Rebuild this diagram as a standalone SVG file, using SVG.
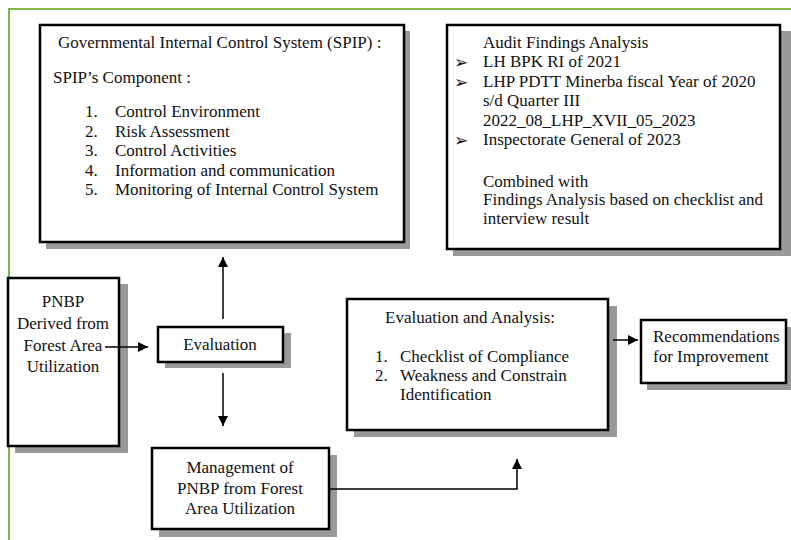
<svg xmlns="http://www.w3.org/2000/svg" width="791" height="540" viewBox="0 0 791 540">
<defs>
<style>
.frame{fill:none;stroke:#7cb84e;stroke-width:2}
.box{fill:#fff;stroke:#000;stroke-width:2.5}
.sh{fill:#999}
.t{font-family:"Liberation Serif","Times New Roman",serif;font-size:17px;fill:#111}
.c{text-anchor:middle}
.b{font-family:"DejaVu Sans",sans-serif;font-size:17px;fill:#111}
.ln{fill:none;stroke:#000;stroke-width:1.5}
</style>
<marker id="ah" viewBox="0 0 10 10" refX="10" refY="5" markerWidth="10" markerHeight="10" markerUnits="userSpaceOnUse" orient="auto">
<path d="M0,0 L10,5 L0,10 z" fill="#000"/>
</marker>
</defs>
<rect width="791" height="540" fill="#fff"/>
<path class="frame" d="M9,540 V9 H791"/>

<g id="spip">
<rect class="sh" x="46" y="31" width="364" height="218"/>
<rect class="box" x="40" y="25" width="364" height="217"/>
<text class="t" x="58" y="48">Governmental Internal Control System (SPIP) :</text>
<text class="t" x="53" y="83">SPIP’s Component :</text>
<text class="t" x="85" y="117">1.</text><text class="t" x="115" y="117">Control Environment</text>
<text class="t" x="85" y="137">2.</text><text class="t" x="115" y="137">Risk Assessment</text>
<text class="t" x="85" y="156">3.</text><text class="t" x="115" y="156">Control Activities</text>
<text class="t" x="85" y="176">4.</text><text class="t" x="115" y="176">Information and communication</text>
<text class="t" x="85" y="195">5.</text><text class="t" x="115" y="195">Monitoring of Internal Control System</text>
</g>

<g id="audit">
<rect class="sh" x="453" y="31" width="338" height="225"/>
<rect class="box" x="447" y="25" width="333" height="224"/>
<text class="t" x="483" y="48">Audit Findings Analysis</text>
<text class="b" x="454" y="68">➢</text><text class="t" x="483" y="67">LH BPK RI of 2021</text>
<text class="b" x="454" y="88">➢</text><text class="t" x="483" y="87">LHP PDTT Minerba fiscal Year of 2020</text>
<text class="t" x="483" y="106">s/d Quarter III</text>
<text class="t" x="483" y="126">2022_08_LHP_XVII_05_2023</text>
<text class="b" x="454" y="146">➢</text><text class="t" x="483" y="145">Inspectorate General of 2023</text>
<text class="t" x="483" y="187">Combined with</text>
<text class="t" x="483" y="205">Findings Analysis based on checklist and</text>
<text class="t" x="483" y="224">interview result</text>
</g>

<g id="pnbp">
<rect class="sh" x="15" y="284" width="113" height="169"/>
<rect class="box" x="8" y="278" width="111" height="168"/>
<text class="t c" x="63" y="307">PNBP</text>
<text class="t c" x="63" y="329">Derived from</text>
<text class="t c" x="63" y="351">Forest Area</text>
<text class="t c" x="63" y="372">Utilization</text>
</g>

<g id="evaluation">
<rect class="sh" x="165" y="333" width="126" height="35"/>
<rect class="box" x="158" y="327" width="125" height="35"/>
<text class="t c" x="220" y="350">Evaluation</text>
</g>

<g id="management">
<rect class="sh" x="159" y="455" width="178" height="82"/>
<rect class="box" x="152" y="448" width="177" height="81"/>
<text class="t c" x="240" y="473">Management of</text>
<text class="t c" x="240" y="494">PNBP from Forest</text>
<text class="t c" x="240" y="514">Area Utilization</text>
</g>

<g id="analysis">
<rect class="sh" x="354" y="306" width="263" height="131"/>
<rect class="box" x="347" y="299" width="261" height="131"/>
<text class="t" x="385" y="323">Evaluation and Analysis:</text>
<text class="t" x="375" y="362">1.</text><text class="t" x="400" y="362">Checklist of Compliance</text>
<text class="t" x="375" y="381">2.</text><text class="t" x="400" y="381">Weakness and Constrain</text>
<text class="t" x="400" y="400">Identification</text>
</g>

<g id="recommendations">
<rect class="sh" x="647" y="327" width="144" height="63"/>
<rect class="box" x="641" y="320" width="145" height="63"/>
<text class="t" x="653" y="342">Recommendations</text>
<text class="t" x="653" y="362">for Improvement</text>
</g>

<g id="connectors">
<path class="ln" d="M105,347 H148" marker-end="url(#ah)"/>
<path class="ln" d="M223,319 V257" marker-end="url(#ah)"/>
<path class="ln" d="M223,373 V426" marker-end="url(#ah)"/>
<path class="ln" d="M329,489 H517 V459" marker-end="url(#ah)"/>
<path class="ln" d="M613,340 H638" marker-end="url(#ah)"/>
</g>
</svg>
